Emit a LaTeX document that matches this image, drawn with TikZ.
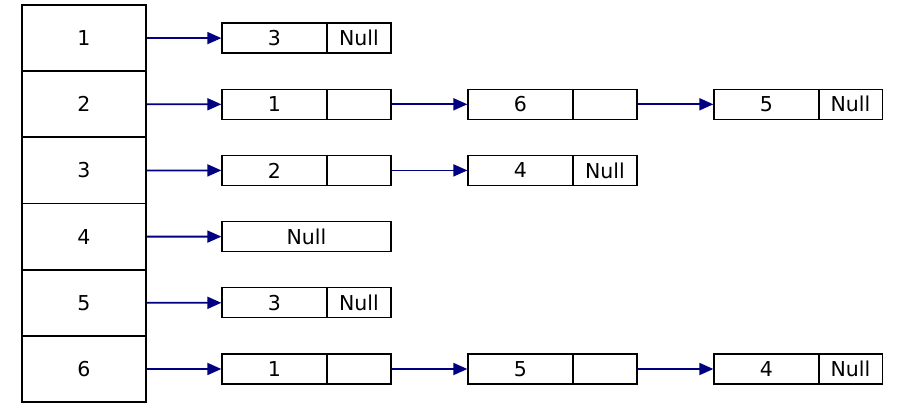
\documentclass[tikz,border=0pt]{standalone}
\usepackage{fontspec}
\setmainfont{DejaVu Sans}
\usetikzlibrary{arrows.meta}
\definecolor{linkblue}{HTML}{000080}
\tikzset{
  lbl/.style={font=\fontsize{20.5}{20.5}\selectfont},
  head/.style={draw, line width=1.8pt, minimum width=124pt, minimum height=66.2pt, inner sep=0pt, lbl},
  cell/.style={draw, line width=1.3pt, minimum height=30pt, inner sep=0pt, lbl},
  val/.style={cell, minimum width=105pt},
  ptr/.style={cell, minimum width=64pt},
  nullbox/.style={cell, minimum width=169pt},
  link/.style={draw=linkblue, line width=1.8pt, -{Triangle[length=14pt,width=12pt]}}
}
\begin{document}
\begin{tikzpicture}[x=1pt, y=-1pt]
  \useasboundingbox (0,0) rectangle (901,410);

  % vertex table
  \foreach \i in {1,...,6}
    \node[head] (h\i) at (84, {5 + 66.17*(\i-0.5)}) {\i};

  % column centres of the list cells
  \def\va{274.5}\def\pa{359}
  \def\vb{520.5}\def\pb{605}
  \def\vc{766.5}\def\pc{850.5}

  % row 1
  \node[val] (r1a) at (\va, 38.1) {3};
  \node[ptr] (r1ap) at (\pa, 38.1) {Null};
  \draw[link] (h1.east) -- (r1a.west);

  % row 2
  \node[val] (r2a) at (\va, 104.3) {1};
  \node[ptr] (r2ap) at (\pa, 104.3) {};
  \node[val] (r2b) at (\vb, 104.3) {6};
  \node[ptr] (r2bp) at (\pb, 104.3) {};
  \node[val] (r2c) at (\vc, 104.3) {5};
  \node[ptr] (r2cp) at (\pc, 104.3) {Null};
  \draw[link] (h2.east) -- (r2a.west);
  \draw[link] (r2ap.east) -- (r2b.west);
  \draw[link] (r2bp.east) -- (r2c.west);

  % row 3
  \node[val] (r3a) at (\va, 170.4) {2};
  \node[ptr] (r3ap) at (\pa, 170.4) {};
  \node[val] (r3b) at (\vb, 170.4) {4};
  \node[ptr] (r3bp) at (\pb, 170.4) {Null};
  \draw[link] (h3.east) -- (r3a.west);
  \draw[link] (r3ap.east) -- (r3b.west);

  % row 4
  \node[nullbox] (r4a) at (306.5, 236.6) {Null};
  \draw[link] (h4.east) -- (r4a.west);

  % row 5
  \node[val] (r5a) at (\va, 302.8) {3};
  \node[ptr] (r5ap) at (\pa, 302.8) {Null};
  \draw[link] (h5.east) -- (r5a.west);

  % row 6
  \node[val] (r6a) at (\va, 369) {1};
  \node[ptr] (r6ap) at (\pa, 369) {};
  \node[val] (r6b) at (\vb, 369) {5};
  \node[ptr] (r6bp) at (\pb, 369) {};
  \node[val] (r6c) at (\vc, 369) {4};
  \node[ptr] (r6cp) at (\pc, 369) {Null};
  \draw[link] (h6.east) -- (r6a.west);
  \draw[link] (r6ap.east) -- (r6b.west);
  \draw[link] (r6bp.east) -- (r6c.west);
\end{tikzpicture}
\end{document}
